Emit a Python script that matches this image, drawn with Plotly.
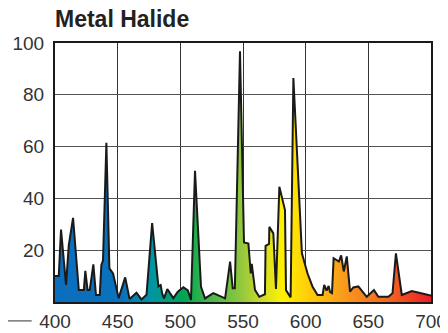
import plotly.graph_objects as go

wavelength = [400, 403, 404.8, 408.8, 411, 414.4, 419, 423, 424.2, 426, 427.7, 430.6, 432.7, 435.7,
              437, 438.3, 441, 443.4, 446.3, 450.8, 456, 459.5, 465, 469, 473, 477.5, 482.5, 484.3,
              485.5, 487, 489.6, 494.4, 498, 502.4, 506, 508.5, 511.7, 516.5, 519.7, 526.3, 535.7,
              539.7, 541.8, 543.5, 547.6, 550.8, 554.3, 556.2, 557, 558, 559.6, 563, 567.5, 568,
              570.8, 571, 574.2, 576.3, 579, 583.5, 584.3, 588, 590.2, 597, 601.5, 605.5, 609.5,
              613.5, 614.8, 616.7, 618.3, 619.5, 621, 622.3, 626.5, 628.3, 630.4, 632.8, 635.4,
              638, 642, 648.7, 654.5, 658, 666, 669.3, 672, 676.7, 684.7, 698, 700]
intensity = [10, 10, 28, 6.6, 22, 32.5, 4.6, 4.6, 12, 4.6, 4.6, 14.5, 2.7, 2.7,
             14.3, 16, 61.5, 13, 11, 1.5, 9.5, 1.2, 3.6, 1, 2.8, 30.5, 6, 6.5,
             3.3, 1.4, 5, 1.5, 4, 5.7, 4.5, 0.8, 50.7, 5.9, 1.4, 3.4, 1.4,
             15.6, 5.3, 5.3, 96.8, 23, 22.6, 11, 14.7, 11, 4.6, 2, 3, 21.7,
             22.4, 29, 26.5, 5, 44.5, 35.5, 4.6, 1.8, 86.5, 18.8, 11, 5.9, 2.7,
             2.7, 6.6, 4.4, 6.2, 3.8, 3.4, 16.9, 15.6, 18, 11.8, 17.6, 4,
             5.6, 6, 2, 4.6, 2, 2, 3.4, 18.8, 2.7, 4.2, 2.7, 2.5]

x_ticks = [400, 450, 500, 550, 600, 650, 700]
y_ticks = [20, 40, 60, 80, 100]
title_text = "Metal Halide"

spectrum_colors = [
    [0.0, "#0a6ebd"], [0.18, "#0a72bc"], [0.26, "#0096a0"], [0.345, "#00a651"],
    [0.40, "#3cb54a"], [0.49, "#8dc63f"], [0.56, "#d7df23"], [0.605, "#fff200"],
    [0.67, "#ffcf0a"], [0.78, "#f7941d"], [0.89, "#f26522"], [1.0, "#ed1c24"],
]

W, H = 440, 325  # page body has an 8px margin

fig = go.Figure()
fig.add_trace(go.Scatter(
    x=wavelength, y=intensity, mode="lines", fill="tozeroy",
    line=dict(color="#1a1a1a", width=2),
    fillgradient=dict(type="horizontal", colorscale=spectrum_colors, start=400, stop=700),
    hoverinfo="skip", showlegend=False,
))

fig.add_shape(type="line", xref="paper", yref="paper",
              x0=-0.146, x1=-0.062, y0=-0.073, y1=-0.073,
              line=dict(color="#333333", width=1))

fig.update_layout(
    width=W, height=H,
    margin=dict(l=47, r=17, t=35, b=31, autoexpand=False),
    paper_bgcolor="white", plot_bgcolor="white",
    font=dict(family="Liberation Sans, Arial, sans-serif", color="#333333"),
    title=dict(text="<b>" + title_text + "</b>", xref="container", yref="container",
               x=47 / W, xanchor="left", y=1 - 3 / H, yanchor="top",
               font=dict(size=23, color="#222222")),
)
fig.update_xaxes(range=[400, 700], tickvals=x_ticks, showgrid=True, gridcolor="#333333",
                 gridwidth=1.3, showline=True, mirror=True, linecolor="#1a1a1a", linewidth=2,
                 ticks="", ticklabelstandoff=1, tickfont=dict(size=19, color="#333333"),
                 zeroline=False, automargin=False)
fig.update_yaxes(range=[0, 100], tickvals=y_ticks, showgrid=True, gridcolor="#555555",
                 gridwidth=1.3, showline=True, mirror=True, linecolor="#1a1a1a", linewidth=2,
                 ticks="", ticklabelstandoff=5, tickfont=dict(size=19, color="#333333"),
                 zeroline=False, automargin=False)

fig.write_html("out.html")
